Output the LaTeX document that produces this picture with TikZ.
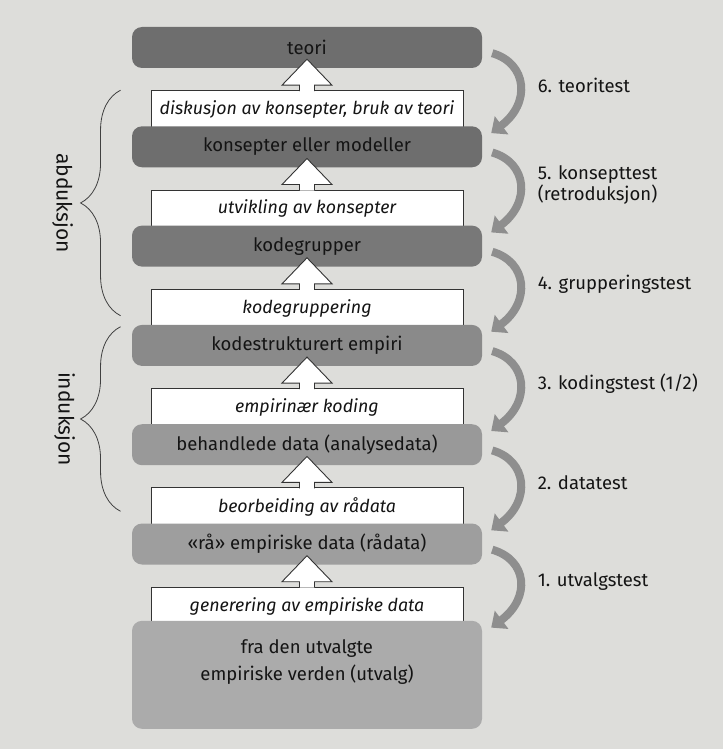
\documentclass[tikz,border=0pt]{standalone}
\usepackage{fontspec}
\setmainfont{Fira Sans}
\usetikzlibrary{positioning, calc, arrows.meta, decorations.pathreplacing}
\definecolor{paper}{HTML}{DDDDDA}
\definecolor{arrowgrey}{HTML}{8E8E8E}

\begin{document}
\begin{tikzpicture}[x=1pt, y=-1pt, node distance=22pt, font=\fontsize{18.5}{22}\selectfont, text=black!92]
    \tikzstyle{level}=[rounded corners=10pt, minimum width=350pt, minimum height=41pt, inner sep=0pt]
    \tikzstyle{work}=[draw=black!80, line width=0.9pt, fill=white, minimum width=312pt, minimum height=38pt, inner sep=0pt, font=\fontsize{17.8}{21}\selectfont\itshape]
    \tikzstyle{hollow}=[draw=black!80, line width=0.9pt, fill=white, line join=miter]
    \tikzstyle{testarrow}=[line width=8pt, draw=arrowgrey, -{Triangle[width=22pt,length=13pt]}]
    \tikzstyle{testlabel}=[right=14pt, align=left, inner sep=0pt, font=\fontsize{18.5}{21}\selectfont]
    \tikzstyle{sidebrace}=[draw=black!75, line width=0.8pt, decorate, decoration={brace, amplitude=40pt}]
    \tikzstyle{sidelabel}=[rotate=-90, inner sep=0pt, font=\fontsize{21}{24}\selectfont]

    \useasboundingbox[fill=paper] (0,0) rectangle (723,749);

    % levels and work steps, bottom up
    \node[level, fill=black!57]     (teori)          at (307,47.5)                  {teori};
    \node[work]                     (diskusjon)      [below=of teori]               {diskusjon av konsepter, bruk av teori};
    \node[level, fill=black!57]     (konsepter)      [below=-3pt of diskusjon]      {konsepter eller modeller};
    \node[work]                     (utvikling)      [below=of konsepter]           {utvikling av konsepter};
    \node[level, fill=black!53]     (kodegrupper)    [below=-3pt of utvikling]      {kodegrupper};
    \node[work]                     (kodegruppering) [below=of kodegrupper]         {kodegruppering};
    \node[level, fill=black!46]     (kodestrukt)     [below=-3pt of kodegruppering] {kodestrukturert empiri};
    \node[work]                     (empirinaer)     [below=of kodestrukt]          {empirinær koding};
    \node[level, fill=black!40]     (behandlede)     [below=-3pt of empirinaer]     {behandlede data (analysedata)};
    \node[work]                     (beorbeiding)    [below=of behandlede]          {beorbeiding av rådata};
    \node[level, fill=black!38]     (raadata)        [below=-3pt of beorbeiding]    {«rå» empiriske data (rådata)};
    \node[work]                     (generering)     [below=of raadata]             {generering av empiriske data};
    \node[level, fill=black!33, minimum height=108pt, align=center, font=\fontsize{18.5}{27}\selectfont]
                                    (utvalg)         [below=-5pt of generering]     {fra den utvalgte\\empiriske verden (utvalg)\\[3pt]};

    % hollow arrows
    \foreach \lo/\hi in {diskusjon/teori, utvikling/konsepter, kodegruppering/kodegrupper,
                         empirinaer/kodestrukt, beorbeiding/behandlede, generering/raadata}
        \path[hollow] ($(\lo.north)+(-7.5,1)$) -- ++(0,-6) -- ++(-17.5,0) -- ($(\hi.south)+(0,-9)$)
                      -- ($(\lo.north)+(25,-5)$) -- ++(-17.5,0) -- ++(0,6);

    % tests
    \foreach \hi/\lo/\txt in {teori/konsepter/{6. teoritest},
                              konsepter/kodegrupper/{5. konsepttest\\(retroduksjon)},
                              kodegrupper/kodestrukt/{4. grupperingstest},
                              kodestrukt/behandlede/{3. kodingstest (1/2)},
                              behandlede/raadata/{2. datatest},
                              raadata/utvalg/{1. utvalgstest}}
        \draw[testarrow] ($(\hi.south east)+(10,-15)$) .. controls +(35,10) and +(40,-30) .. ($(\lo.north east)+(9,7)$)
            node[testlabel, pos=0.5] {\txt};

    % braces
    \draw[sidebrace] ($(diskusjon.west |- kodestrukt.north)+(-30,-9)$) -- ($(diskusjon.north west)+(-30,0)$)
        node[xshift=-58pt, sidelabel, pos=0.5] {abduksjon};
    \draw[sidebrace] ($(diskusjon.west |- raadata.north)+(-30,-12)$) -- ($(diskusjon.west |- kodestrukt.north)+(-30,2)$)
        node[xshift=-56pt, sidelabel, pos=0.5] {induksjon};
\end{tikzpicture}
\end{document}
